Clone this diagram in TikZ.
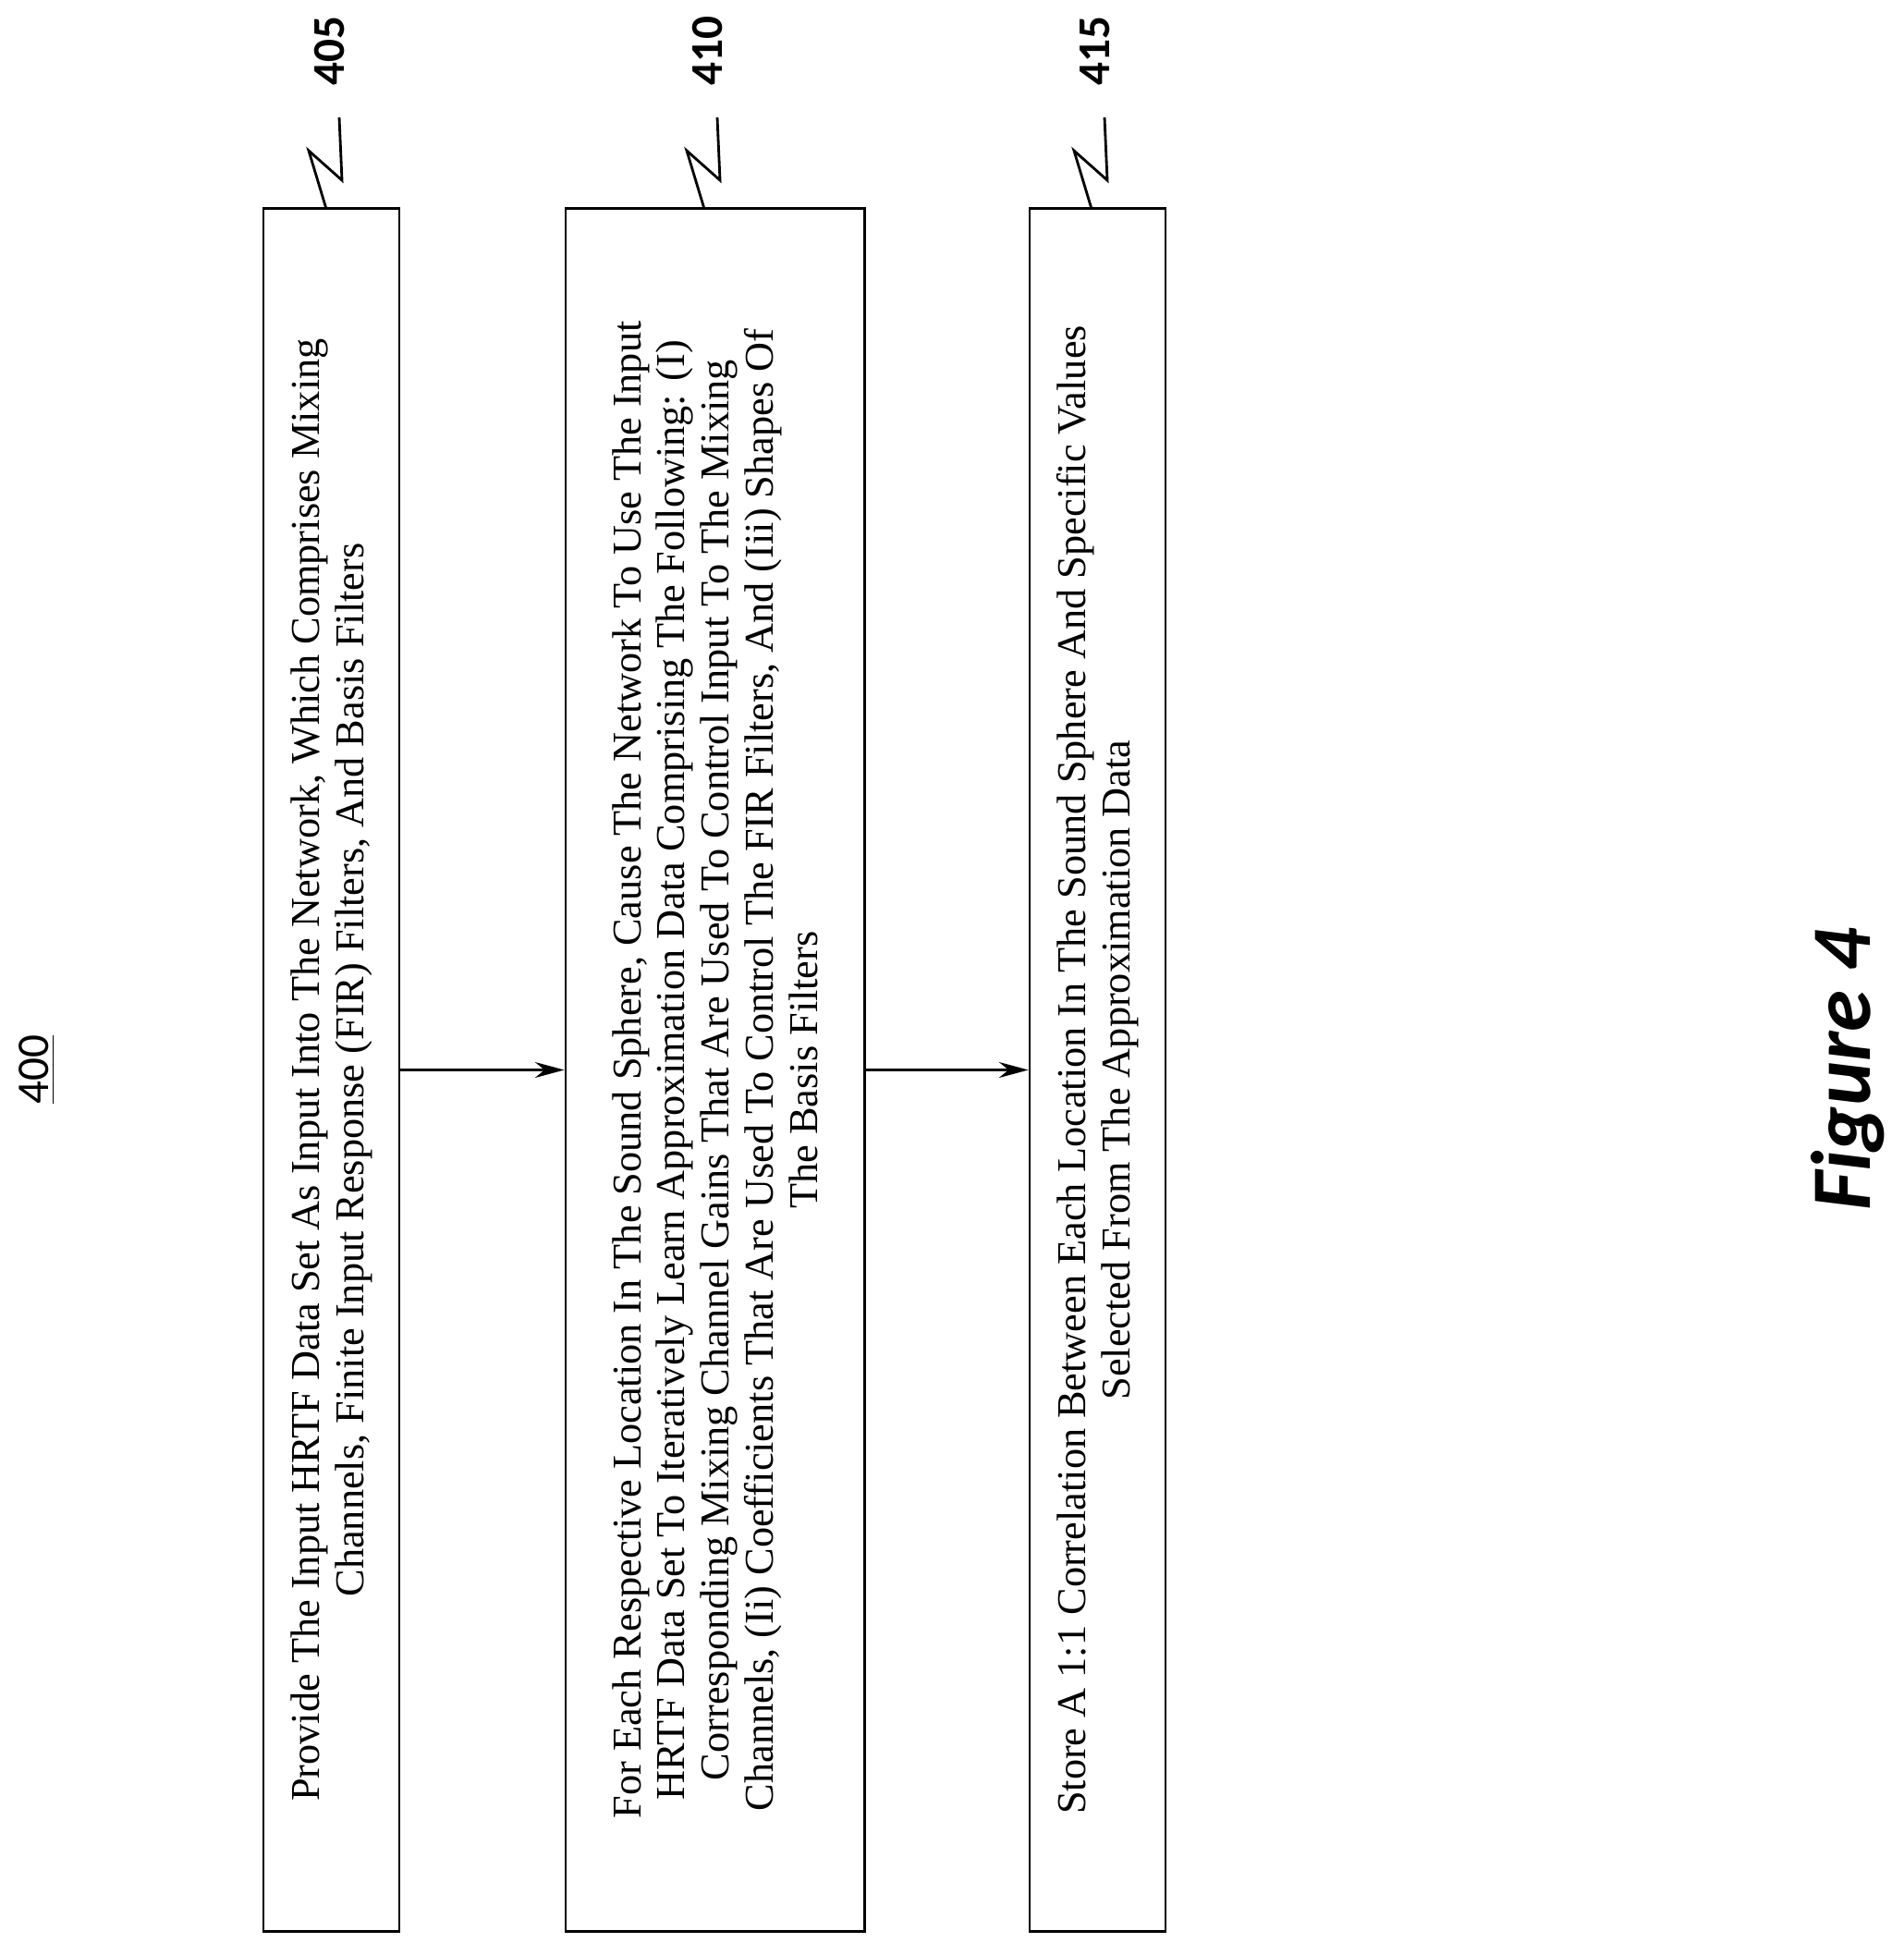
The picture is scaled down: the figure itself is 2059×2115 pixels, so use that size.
\documentclass[tikz,border=0pt]{standalone}
\usepackage{fontspec}
\setmainfont{Liberation Serif}
\newfontfamily\figfont{Carlito}
\usetikzlibrary{arrows.meta}
\begin{document}
\begin{tikzpicture}[x=0.01cm,y=0.01cm,
	stepbox/.style={draw,thick,rotate=90,minimum width=18.63cm,align=center,
		font=\fontsize{12.6}{13.6}\selectfont,inner sep=0pt},
	flow/.style={thick,-{Stealth[length=9pt,angle'=30]}},
	refnum/.style={font=\figfont\bfseries\fontsize{14}{14}\selectfont,rotate=90}]
	\useasboundingbox (0,0) rectangle (2059,-2115);
	% boxes
	\node[stepbox,minimum height=1.47cm] (s405) at (358.5,-1157.5) {Provide The Input HRTF Data Set As Input Into The Network, Which Comprises Mixing\\
		Channels, Finite Input Response (FIR) Filters, And Basis Filters};
	\node[stepbox,minimum height=3.23cm] (s410) at (773.5,-1157.5) {For Each Respective Location In The Sound Sphere, Cause The Network To Use The Input\\
		HRTF Data Set To Iteratively Learn Approximation Data Comprising The Following: (I)\\
		Corresponding Mixing Channel Gains That Are Used To Control Input To The Mixing\\
		Channels, (Ii) Coefficients That Are Used To Control The FIR Filters, And (Iii) Shapes Of\\
		The Basis Filters};
	\node[stepbox,minimum height=1.47cm] (s415) at (1187.5,-1157.5) {Store A 1:1 Correlation Between Each Location In The Sound Sphere And Specific Values\\
		Selected From The Approximation Data};
	% arrows
	\draw[flow] (s405.south) -- (s410.north);
	\draw[flow] (s410.south) -- (s415.north);
	% reference numbers
	\node[refnum] (n405) at (357,-55) {405};
	\node[refnum] (n410) at (766,-55) {410};
	\node[refnum] (n415) at (1185,-55) {415};
	\foreach \x in {353,762,1181}
		\draw[thick] (\x,-226) -- (\x-19,-163) -- (\x+17,-195) -- (\x+14,-127);
	\node[refnum,font=\figfont\fontsize{14}{14}\selectfont] (n400) at (40,-1157) {\underline{400}};
	\node[refnum,font=\figfont\bfseries\itshape\fontsize{26}{26}\selectfont] (fig) at (1999,-1157) {Figure 4};
\end{tikzpicture}
\end{document}
